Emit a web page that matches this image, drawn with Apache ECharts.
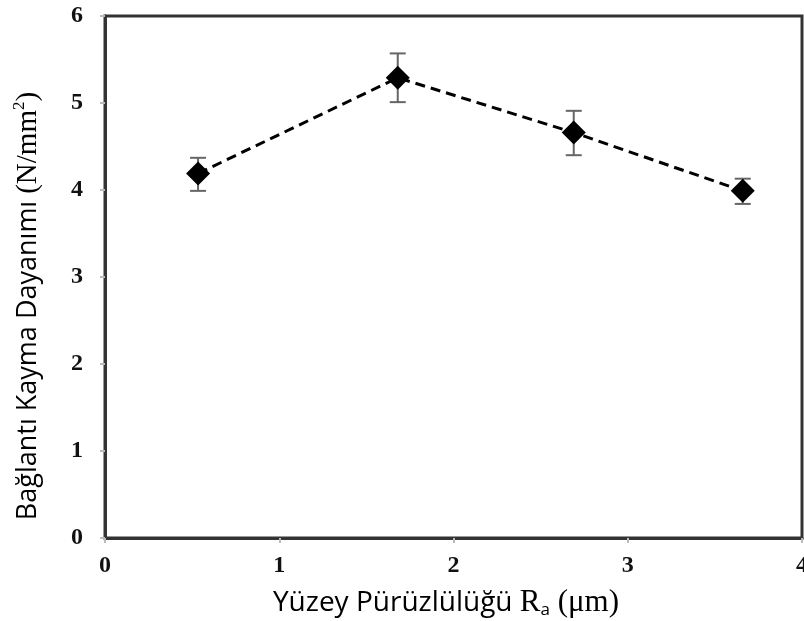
<!DOCTYPE html>
<html>
<head>
<meta charset="utf-8">
<script src="https://cdn.jsdelivr.net/npm/echarts@6/dist/echarts.min.js"></script>
<style>
  html, body { margin: 0; padding: 0; background: #fff; overflow: hidden; }
  #chart { width: 804px; height: 621px; }
</style>
</head>
<body>
<div id="chart"></div>
<script>
// Surface roughness Ra (µm) vs. bond shear strength (N/mm²)
const roughness = [0.534, 1.68, 2.69, 3.66];
const strength  = [4.19, 5.29, 4.66, 3.99];
const errUpper  = [4.37, 5.57, 4.91, 4.13];
const errLower  = [3.99, 5.01, 4.40, 3.84];
const xTicks = [0, 1, 2, 3, 4];
const yTicks = [0, 1, 2, 3, 4, 5, 6];

const points = roughness.map((x, i) => [x, strength[i]]);
const bars = roughness.map((x, i) => [x, errLower[i], errUpper[i]]);

const chart = echarts.init(document.getElementById('chart'), null, { renderer: 'canvas' });

const tickLabel = {
  fontFamily: 'Liberation Serif',
  fontWeight: 'bold',
  fontSize: 24,
  color: '#111'
};

const titleRich = {
  t: { fontFamily: 'Open Sans', fontSize: 28, color: '#111' },
  r: { fontFamily: 'Liberation Serif', fontSize: 31, color: '#111' },
  sub: { fontFamily: 'Open Sans', fontSize: 17, color: '#111', padding: [14, 0, 0, 0] },
  sup: { fontFamily: 'Liberation Serif', fontSize: 17, color: '#111', padding: [0, 0, 16, 0] }
};
const yTitleRich = Object.assign({}, titleRich, {
  t: { fontFamily: 'Open Sans', fontSize: 27, color: '#111' },
  r: { fontFamily: 'Liberation Serif', fontSize: 29, color: '#111' }
});

chart.setOption({
  animation: false,
  backgroundColor: '#fff',
  grid: {
    left: 105, right: 2, top: 16, bottom: 83,
    containLabel: false,
    outerBoundsMode: 'none',
    show: true, borderColor: '#333', borderWidth: 3, backgroundColor: 'transparent'
  },
  xAxis: {
    type: 'value', min: xTicks[0], max: xTicks[xTicks.length - 1], interval: 1,
    axisLine: { show: true, onZero: false, lineStyle: { color: '#333', width: 3 } },
    axisTick: { show: true, inside: false, length: 5, lineStyle: { color: '#bbb', width: 2 } },
    splitLine: { show: false },
    axisLabel: Object.assign({ margin: 16 }, tickLabel)
  },
  yAxis: {
    type: 'value', min: yTicks[0], max: yTicks[yTicks.length - 1], interval: 1,
    axisLine: { show: true, onZero: false, lineStyle: { color: '#333', width: 3 } },
    axisTick: { show: true, inside: false, length: 5, lineStyle: { color: '#bbb', width: 2 } },
    splitLine: { show: false },
    axisLabel: Object.assign({ margin: 22 }, tickLabel)
  },
  graphic: [
    {
      type: 'text',
      x: 446, y: 603,
      style: {
        text: '{t|Yüzey Pürüzlülüğü }{r|R}{sub|a}{r| (μm)}',
        rich: titleRich,
        align: 'center', verticalAlign: 'middle'
      }
    },
    {
      type: 'text',
      x: 28, y: 306,
      rotation: Math.PI / 2,
      style: {
        text: '{t|Bağlantı Kayma Dayanımı }{r|(N/mm}{sup|2}{r|)}',
        rich: yTitleRich,
        align: 'center', verticalAlign: 'middle'
      }
    }
  ],
  series: [
    {
      type: 'custom',
      renderItem: function (params, api) {
        const x = api.value(0);
        const lo = api.coord([x, api.value(1)]);
        const hi = api.coord([x, api.value(2)]);
        const hw = 8;
        const style = { stroke: '#666', lineWidth: 2 };
        return {
          type: 'group',
          children: [
            { type: 'line', shape: { x1: lo[0], y1: lo[1], x2: hi[0], y2: hi[1] }, style },
            { type: 'line', shape: { x1: lo[0] - hw, y1: lo[1], x2: lo[0] + hw, y2: lo[1] }, style },
            { type: 'line', shape: { x1: hi[0] - hw, y1: hi[1], x2: hi[0] + hw, y2: hi[1] }, style }
          ]
        };
      },
      encode: { x: 0, y: [1, 2] },
      data: bars,
      z: 1
    },
    {
      type: 'line',
      data: points,
      lineStyle: { color: '#000', width: 3, type: [10, 6] },
      symbol: 'diamond',
      symbolSize: 24,
      itemStyle: { color: '#000' },
      z: 2
    }
  ]
});
</script>
</body>
</html>
